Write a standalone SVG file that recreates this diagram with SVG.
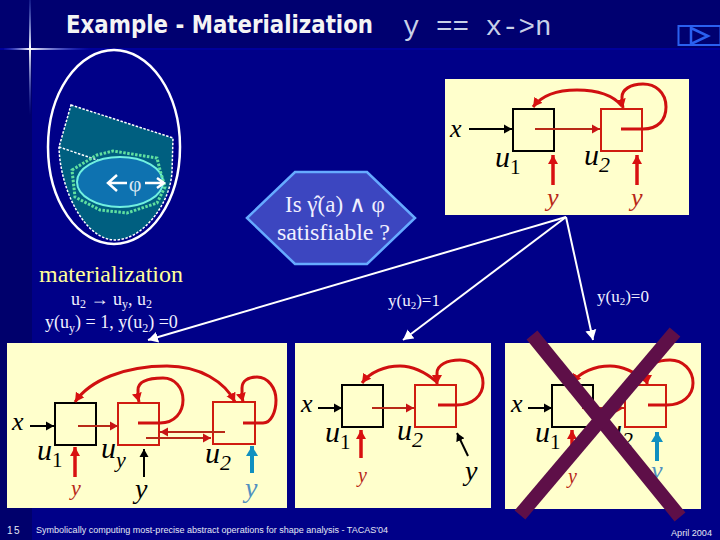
<svg xmlns="http://www.w3.org/2000/svg" width="720" height="540" viewBox="0 0 720 540">
<defs>
<linearGradient id="gv" x1="0" y1="0" x2="0" y2="1"><stop offset="0" stop-color="#5a78e0" stop-opacity="0.2"/><stop offset="0.42" stop-color="#ffffff"/><stop offset="1" stop-color="#3a50d0" stop-opacity="0"/></linearGradient>
<linearGradient id="gh" x1="0" y1="0" x2="1" y2="0"><stop offset="0" stop-color="#3a50d0" stop-opacity="0.1"/><stop offset="0.3" stop-color="#ffffff"/><stop offset="1" stop-color="#3a50d0" stop-opacity="0"/></linearGradient>
<marker id="mk" markerUnits="userSpaceOnUse" markerWidth="10" markerHeight="10" refX="8" refY="5" orient="auto"><path d="M0,0.5L8,5L0,9.5z" fill="#000"/></marker>
<marker id="mr" markerUnits="userSpaceOnUse" markerWidth="11" markerHeight="11" refX="9" refY="5.500" orient="auto-start-reverse"><path d="M0,0.5L9,5.500L0,10.500z" fill="#d81010"/></marker>
<marker id="md" markerUnits="userSpaceOnUse" markerWidth="10" markerHeight="10" refX="8" refY="5" orient="auto"><path d="M0,0.5L8,5L0,9.5z" fill="#c81414"/></marker>
<marker id="mb" markerUnits="userSpaceOnUse" markerWidth="12" markerHeight="12" refX="10" refY="6" orient="auto"><path d="M0,0L10,6L0,12z" fill="#1090c0"/></marker>
<marker id="mw" markerUnits="userSpaceOnUse" markerWidth="12" markerHeight="12" refX="10" refY="6" orient="auto"><path d="M0,0.5L10,6L0,11.5z" fill="#fff"/></marker>
</defs>
<style>
.s{font-family:"Liberation Serif",serif}
.i{font-family:"Liberation Serif",serif;font-style:italic;fill:#000}
.sb{font-size:21px;font-style:normal}
.si{font-size:22px}
.ry{font-family:"Liberation Serif",serif;font-style:italic;fill:#b82818}
.by{font-family:"Liberation Serif",serif;font-style:italic;fill:#5090c0}
.w{font-family:"Liberation Serif",serif;fill:#f0f0ff}
.f{font-family:"Liberation Sans",sans-serif;fill:#e4e8f4}
.panel{fill:#ffffcc}
.bk{fill:none;stroke:#000;stroke-width:2}
.bx{fill:none;stroke:#d01c10;stroke-width:2}
.ak{fill:none;stroke:#000;stroke-width:2;marker-end:url(#mk)}
.ar{fill:none;stroke:#d81010;stroke-width:3.5;marker-end:url(#mr)}
.ad{fill:none;stroke:#b82a18;stroke-width:2;marker-end:url(#md)}
.loop{fill:none;stroke:#d01010;stroke-width:3;marker-end:url(#mr)}
.ab{fill:none;stroke:#1090c0;stroke-width:4;marker-end:url(#mb)}
.aw{fill:none;stroke:#fff;stroke-width:2;marker-end:url(#mw)}
.xs{stroke:#5e0f48;stroke-width:14;fill:none}
</style>

<g id="background">
<rect width="720" height="540" fill="#000088"/>
<rect width="720" height="48" fill="#000070"/>
<rect y="48" width="32" height="492" fill="#00006c"/>
<rect y="48" x="0" width="720" height="2" fill="#00009c"/>
<rect x="29" y="0" width="2" height="115" fill="url(#gv)"/>
<rect x="4" y="48" width="86" height="2" fill="url(#gh)"/>
</g>

<g id="title">
<text x="66" y="33" font-family="'DejaVu Sans',sans-serif" font-weight="700" font-size="24" fill="#f4f4f4" textLength="307" lengthAdjust="spacingAndGlyphs">Example - Materialization</text>
<text x="403" y="35" font-family="'Liberation Mono',monospace" font-size="27.5" fill="#c8d0e8">y == x-&gt;n</text>
</g>

<g id="nav-button">
<rect x="678.500" y="26" width="42" height="19" fill="none" stroke="#2a60f0" stroke-width="2"/>
<path d="M691,28L708,36L691,44z" fill="none" stroke="#2a60f0" stroke-width="2.500"/>
</g>

<g id="abstraction-egg">
<ellipse cx="114" cy="147" rx="66" ry="97" fill="none" stroke="#fff" stroke-width="2.500"/>
<path d="M71,105L173,138L172,172C170,205 142,240 115,240C85,240 60,190 59,147z" fill="#005f80" stroke="#fff" stroke-width="1.500" stroke-dasharray="2.500 1.500"/>
<path d="M59,147L165,183" fill="none" stroke="#fff" stroke-width="1.500" stroke-dasharray="2.500 1.500"/>
<ellipse cx="120" cy="182" rx="43" ry="25" fill="#0e72b0" stroke="#70f0e0" stroke-width="2"/>
<path d="M72,170L97,155L113,151L157,158L160,170L165,187L157,203L127,213L100,210L75,197z" fill="none" stroke="#60e0a0" stroke-width="3" stroke-dasharray="2.500 1.500"/>
<path d="M127,183L109,183M117,175L108,183L117,191" fill="none" stroke="#fff" stroke-width="2.500"/>
<path d="M145,183L164,183M157,178L164,183L157,188" fill="none" stroke="#fff" stroke-width="2.500"/>
<text x="135" y="191" text-anchor="middle" class="s" font-size="22" fill="#d8e8f4">φ</text>
</g>

<g id="top-panel">
<rect class="panel" x="445" y="79" width="244" height="136"/>
<rect class="bk" x="513" y="109" width="41" height="42"/>
<rect class="bx" x="601" y="109" width="41" height="42"/>
<text class="i" x="450" y="137" font-size="26">x</text>
<text class="i" x="495" y="167" font-size="30">u<tspan class="sb" dy="7">1</tspan></text>
<text class="i" x="584" y="165" font-size="30">u<tspan class="si" dy="7">2</tspan></text>
<text class="ry" x="547" y="206" font-size="26">y</text>
<text class="ry" x="631" y="206" font-size="26">y</text>
</g>

<g id="question">
<path d="M247,218L295,172L367,172L415,218L367,264L295,264z" fill="#3c46c0" stroke="#66aaff" stroke-width="2.500"/>
<text class="w" x="285" y="212" font-size="23" xml:space="preserve">Is γ̂(a) ∧ φ</text>
<text class="w" x="277" y="240" font-size="24" textLength="113">satisfiable ?</text>
</g>

<g id="labels">
<text class="s" x="39" y="282" font-size="24" fill="#ffff99" textLength="144">materialization</text>
<text class="w" x="71" y="305" font-size="18">u<tspan font-size="12" dy="3">2</tspan><tspan dy="-3" font-weight="700"> → </tspan>u<tspan font-size="12" dy="3">y</tspan><tspan dy="-3">, u</tspan><tspan font-size="12" dy="3">2</tspan></text>
<text class="w" x="45" y="328" font-size="18">y(u<tspan font-size="12" dy="4">y</tspan><tspan dy="-4">) = 1, y(u</tspan><tspan font-size="12" dy="4">2</tspan><tspan dy="-4">) =0</tspan></text>
<text class="w" x="388" y="306" font-size="17">y(u<tspan font-size="11" dy="3">2</tspan><tspan dy="-3">)=1</tspan></text>
<text class="w" x="597" y="302" font-size="17">y(u<tspan font-size="11" dy="3">2</tspan><tspan dy="-3">)=0</tspan></text>
</g>

<g id="left-panel">
<rect class="panel" x="7" y="343" width="280" height="165"/>
<rect class="bk" x="55" y="403" width="41" height="42"/>
<rect class="bx" x="118" y="403" width="41" height="42"/>
<rect class="bx" x="213" y="402" width="42" height="42"/>
<text class="i" x="12" y="430" font-size="26">x</text>
<text class="i" x="37" y="460" font-size="30">u<tspan class="sb" dy="7">1</tspan></text>
<text class="i" x="101" y="458" font-size="30">u<tspan class="si" dy="9">y</tspan></text>
<text class="i" x="205" y="463" font-size="30">u<tspan class="si" dy="7">2</tspan></text>
<text class="ry" x="71" y="495" font-size="22">y</text>
<text class="i" x="135" y="498" font-size="28">y</text>
<text class="by" x="245" y="497" font-size="28">y</text>
</g>

<g id="middle-panel">
<rect class="panel" x="295" y="343" width="196" height="165"/>
<rect class="bk" x="342" y="385" width="41" height="42"/>
<rect class="bx" x="415" y="385" width="41" height="42"/>
<text class="i" x="301" y="412" font-size="26">x</text>
<text class="i" x="325" y="442" font-size="30">u<tspan class="sb" dy="7">1</tspan></text>
<text class="i" x="397" y="440" font-size="30">u<tspan class="si" dy="7">2</tspan></text>
<text class="ry" x="358" y="482" font-size="20">y</text>
<text class="i" x="465" y="480" font-size="28">y</text>
</g>

<g id="right-panel">
<rect class="panel" x="505" y="343" width="196" height="166"/>
<rect class="bk" x="552" y="385" width="41" height="42"/>
<rect class="bx" x="625" y="385" width="41" height="42"/>
<text class="i" x="511" y="412" font-size="26">x</text>
<text class="i" x="535" y="442" font-size="30">u<tspan class="sb" dy="7">1</tspan></text>
<text class="i" x="607" y="440" font-size="30">u<tspan class="si" dy="7">2</tspan></text>
<text class="ry" x="568" y="483" font-size="20">y</text>
<text class="by" x="651" y="479" font-size="26">y</text>
</g>

<g id="connectors">
<path class="aw" d="M566,217L593,340"/>
<path class="aw" d="M566,217L403,340"/>
<path class="aw" d="M566,217L148,340"/>

<path class="ak" d="M469,129H512"/>
<path class="ad" stroke-width="2.500" d="M535,129H600"/>
<path class="loop" d="M621,129H643C658,129 666,120 666,107C666,92 655,84 643,84C630,84 622,90 622,97C622,101 622,104 623,108"/>
<path class="loop" d="M622,106C612,94 596,90 577,90C558,90 542,95 533,107"/>
<path class="ar" d="M553,185V155"/>
<path class="ar" d="M637,185V155"/>

<path class="ak" d="M30,426H54"/>
<path class="ad" d="M78,426H118"/>
<path class="loop" d="M138,423H160C175,423 183,412 183,400C183,388 175,378 163,378C150,378 138,381 138,390C138,394 138,398 139,402"/>
<path class="ad" d="M146,438H211"/>
<path class="ad" d="M225,432H160"/>
<path class="loop" style="marker-start:url(#mr)" d="M75,402C90,380 125,366 167,366C200,366 225,382 235,402"/>
<path class="loop" d="M243,423H263C271,423 276,412 276,400C276,388 268,377 257,377C248,377 242,381 242,388C242,394 242,398 243,402"/>
<path class="ar" d="M75,477V447"/>
<path class="ak" stroke-width="2.500" d="M144,477V449"/>
<path class="ab" d="M252,473V446"/>

<path class="ak" d="M318,408H342"/>
<path class="ad" d="M372,408H414"/>
<path class="ar" d="M361,458V430"/>
<path class="ak" stroke-width="2.500" d="M468,456L457,433"/>
<path class="loop" d="M437,382C425,372 413,366 400,366C385,366 370,372 362,383"/>
<path class="loop" d="M438,405H457C472,405 483,396 483,383C483,370 473,360 460,360C447,360 437,365 437,373C437,376 437,379 437,384"/>

<path class="ak" d="M528,408H552"/>
<path class="ad" d="M582,408H624"/>
<path class="ar" d="M572,458V430"/>
<path class="ab" d="M657,461V432"/>
<path class="loop" d="M647,382C635,372 623,366 610,366C595,366 580,372 572,383"/>
<path class="loop" d="M648,405H667C682,405 693,396 693,383C693,370 683,360 670,360C657,360 647,365 647,373C647,376 647,379 647,384"/>
</g>

<g id="cross-out">
<path class="xs" d="M532,335L680,517"/>
<path class="xs" d="M675,332L520,515"/>
</g>

<g id="footer">
<text class="f" x="7" y="534" font-size="10" letter-spacing="1.500">15</text>
<text class="f" x="36" y="533" font-size="8.500" textLength="352" lengthAdjust="spacingAndGlyphs">Symbolically computing most-precise abstract operations for shape analysis - TACAS'04</text>
<text class="f" x="671" y="536" font-size="9" textLength="41" lengthAdjust="spacingAndGlyphs">April 2004</text>
</g>
</svg>
